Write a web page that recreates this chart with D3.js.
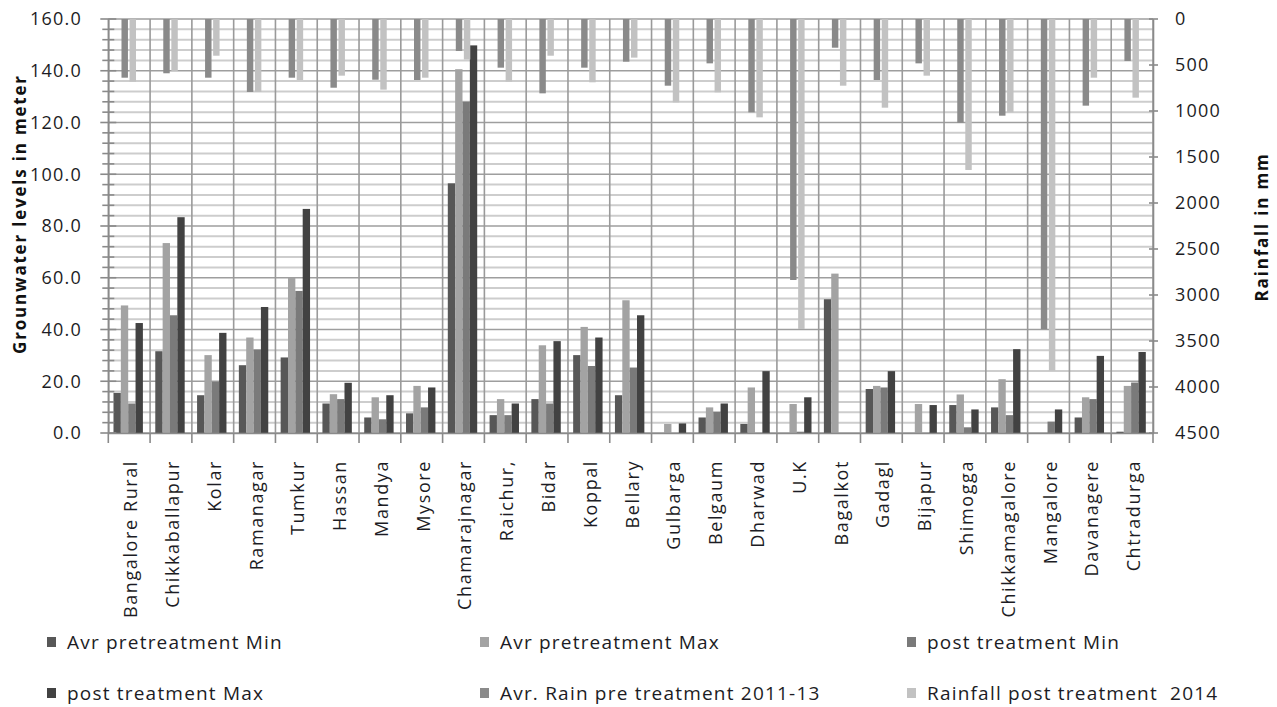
<!DOCTYPE html>
<html>
<head>
<meta charset="utf-8">
<script src="https://cdn.jsdelivr.net/npm/d3@7/dist/d3.min.js"></script>
<style>
  html, body { margin: 0; padding: 0; background: #fff; }
  svg { display: block; font-family: "Open Sans", "DejaVu Sans", sans-serif; }
</style>
</head>
<body>
<svg id="chart" width="1277" height="707"></svg>
<script>
// Districts along the x axis
const districts = ["Bangalore Rural", "Chikkaballapur", "Kolar", "Ramanagar", "Tumkur", "Hassan",
  "Mandya", "Mysore", "Chamarajnagar", "Raichur,", "Bidar", "Koppal", "Bellary", "Gulbarga",
  "Belgaum", "Dharwad", "U.K", "Bagalkot", "Gadagl", "Bijapur", "Shimogga", "Chikkamagalore",
  "Mangalore", "Davanagere", "Chtradurga"];

// Groundwater levels (m), left axis
const avrPreMin  = [15.5, 31.6, 14.6, 26.2, 29.2, 11.4, 6.0, 7.6, 96.5, 6.9, 13.1, 30.1, 14.6, 0, 6.0, 3.5, 0, 51.7, 17.0, 0, 10.8, 9.9, 0, 6.0, 0.5];
const avrPreMax  = [49.3, 73.4, 30.1, 36.9, 59.9, 15.0, 13.8, 18.2, 140.6, 13.1, 33.9, 41.0, 51.3, 3.5, 9.9, 17.6, 11.2, 61.6, 18.2, 11.2, 14.9, 20.8, 0, 13.8, 18.2];
const postMin    = [11.4, 45.5, 19.8, 32.3, 54.9, 13.1, 5.3, 9.9, 128.1, 6.9, 11.4, 25.9, 25.3, 0, 8.2, 0, 0.5, 0, 17.6, 0, 2.2, 6.9, 4.4, 13.1, 19.5];
const postMax    = [42.5, 83.4, 38.7, 48.7, 86.6, 19.4, 14.6, 17.6, 149.8, 11.4, 35.5, 36.9, 45.5, 3.7, 11.4, 23.9, 13.8, 0, 23.9, 10.8, 9.1, 32.4, 9.1, 29.8, 31.3];

// Rainfall (mm), right axis, drawn downward from the top
const rainPre    = [638, 590, 638, 793, 638, 747, 660, 663, 348, 529, 808, 529, 464, 725, 482, 1015, 2837, 312, 663, 482, 1127, 1051, 3370, 942, 457];
const rainPost   = [681, 565, 399, 793, 663, 616, 768, 638, 440, 681, 399, 688, 420, 906, 797, 1069, 3370, 725, 964, 616, 1641, 1015, 3823, 638, 855];

const leftTicks  = [0, 20, 40, 60, 80, 100, 120, 140, 160];
const rightTicks = [0, 500, 1000, 1500, 2000, 2500, 3000, 3500, 4000, 4500];

const gwSeries = [
  { name: "Avr pretreatment Min", values: avrPreMin, color: "#575757" },
  { name: "Avr pretreatment Max", values: avrPreMax, color: "#a3a3a3" },
  { name: "post treatment Min",   values: postMin,   color: "#7a7a7a" },
  { name: "post treatment Max",   values: postMax,   color: "#424242" }
];
const rainSeries = [
  { name: "Avr. Rain pre treatment 2011-13", values: rainPre,  color: "#8a8a8a" },
  { name: "Rainfall post treatment  2014",   values: rainPost, color: "#c2c2c2" }
];

const svg = d3.select("#chart");
const plot = { left: 108.3, right: 1153, top: 19, bottom: 433 };

const x = d3.scaleBand().domain(districts).range([plot.left, plot.right]).padding(0);
const yL = d3.scaleLinear().domain([0, 160]).range([plot.bottom, plot.top]);
const yR = d3.scaleLinear().domain([0, 4500]).range([plot.top, plot.bottom]);

const bw = x.bandwidth();
const gwWidth = 29.4;
const xGw = d3.scaleBand().domain(gwSeries.map(s => s.name))
  .range([(bw - gwWidth) / 2 - 1, (bw + gwWidth) / 2 - 1]);
const xRain = d3.scaleBand().domain(rainSeries.map(s => s.name))
  .range([bw / 2 - 7.7, bw / 2 + 6.8]).paddingInner(0.2);

// Horizontal gridlines: minor every 4 m, major every 20 m
const minorVals = d3.range(0, 161, 4).filter(v => v % 20 !== 0);
svg.append("g").selectAll("line").data(minorVals).join("line")
  .attr("x1", plot.left).attr("x2", plot.right)
  .attr("y1", d => yL(d)).attr("y2", d => yL(d))
  .attr("stroke", "#cdcdcd").attr("stroke-width", 2);
svg.append("g").selectAll("line").data(leftTicks).join("line")
  .attr("x1", plot.left).attr("x2", plot.right)
  .attr("y1", d => yL(d)).attr("y2", d => yL(d))
  .attr("stroke", "#9e9e9e").attr("stroke-width", 1.6);

// Vertical gridlines at category boundaries
const bounds = districts.map(d => x(d)).concat([plot.right]);
svg.append("g").selectAll("line").data(bounds).join("line")
  .attr("x1", d => d).attr("x2", d => d)
  .attr("y1", plot.top).attr("y2", plot.bottom)
  .attr("stroke", "#9a9a9a").attr("stroke-width", 1.6);

// Groundwater bars
gwSeries.forEach(s => {
  svg.append("g").selectAll("rect").data(s.values).join("rect")
    .attr("x", (v, i) => x(districts[i]) + xGw(s.name))
    .attr("width", xGw.bandwidth())
    .attr("y", v => yL(v))
    .attr("height", v => yL(0) - yL(v))
    .attr("fill", s.color);
});

// Rainfall bars hanging from the top
rainSeries.forEach(s => {
  svg.append("g").selectAll("rect").data(s.values).join("rect")
    .attr("x", (v, i) => x(districts[i]) + xRain(s.name))
    .attr("width", xRain.bandwidth())
    .attr("y", yR(0))
    .attr("height", v => yR(v) - yR(0))
    .attr("fill", s.color);
});

const textColor = "#1c1c24";

// Left axis
const leftAxis = svg.append("g").attr("transform", `translate(${plot.left},0)`)
  .call(d3.axisLeft(yL).tickValues(leftTicks).tickSize(0).tickFormat(""));
leftAxis.select(".domain").attr("stroke", "#8a8a8a").attr("stroke-width", 1.6);
svg.append("g").selectAll("line").data(d3.range(0, 161, 4)).join("line")
  .attr("x1", d => d % 20 === 0 ? plot.left - 8 : plot.left - 6)
  .attr("x2", d => d % 20 === 0 ? plot.left + 8 : plot.left + 6)
  .attr("y1", d => yL(d)).attr("y2", d => yL(d))
  .attr("stroke", "#8a8a8a").attr("stroke-width", 1.6);
svg.append("g").selectAll("text").data(leftTicks).join("text")
  .attr("x", 82).attr("y", d => yL(d)).attr("dy", "0.36em")
  .attr("text-anchor", "end").attr("font-size", 18).attr("letter-spacing", 1.2)
  .attr("fill", textColor)
  .text(d3.format(".1f"));

// Right axis
const rightAxis = svg.append("g").attr("transform", `translate(${plot.right},0)`)
  .call(d3.axisRight(yR).tickValues(rightTicks).tickSize(0).tickFormat(""));
rightAxis.select(".domain").attr("stroke", "#8a8a8a").attr("stroke-width", 1.6);
svg.append("g").selectAll("line").data(rightTicks).join("line")
  .attr("x1", plot.right - 4).attr("x2", plot.right + 5)
  .attr("y1", d => yR(d)).attr("y2", d => yR(d))
  .attr("stroke", "#8a8a8a").attr("stroke-width", 1.6);
svg.append("g").selectAll("text").data(rightTicks).join("text")
  .attr("x", 1175).attr("y", d => yR(d)).attr("dy", "0.36em")
  .attr("text-anchor", "start").attr("font-size", 18).attr("letter-spacing", 1.2)
  .attr("fill", textColor)
  .text(d => d);

// Bottom axis with boundary ticks
const bottomAxis = svg.append("g").attr("transform", `translate(0,${plot.bottom})`)
  .call(d3.axisBottom(x).tickSize(0).tickFormat(""));
bottomAxis.select(".domain").attr("stroke", "#8a8a8a").attr("stroke-width", 1.6);
svg.append("g").selectAll("line").data(bounds).join("line")
  .attr("x1", d => d).attr("x2", d => d)
  .attr("y1", plot.bottom).attr("y2", plot.bottom + 10)
  .attr("stroke", "#8a8a8a").attr("stroke-width", 1.6);

// Category labels, rotated
svg.append("g").selectAll("text").data(districts).join("text")
  .attr("transform", d => `translate(${x(d) + bw / 2 + 1.5},460) rotate(-90)`)
  .attr("dy", "0.36em")
  .attr("text-anchor", "end").attr("font-size", 18).attr("letter-spacing", 1.6)
  .attr("fill", textColor)
  .text(d => d);

// Axis titles
svg.append("text")
  .attr("transform", "translate(20,214) rotate(-90)")
  .attr("dy", "0.36em").attr("text-anchor", "middle")
  .attr("font-size", 17).attr("font-weight", "bold").attr("letter-spacing", 1.8)
  .attr("fill", "#111")
  .text("Grounwater levels in meter");
svg.append("text")
  .attr("transform", "translate(1262,227) rotate(-90)")
  .attr("dy", "0.36em").attr("text-anchor", "middle")
  .attr("font-size", 17).attr("font-weight", "bold").attr("letter-spacing", 1.8)
  .attr("fill", "#111")
  .text("Rainfall in mm");

// Legend
const legendItems = [
  gwSeries[0], gwSeries[1], gwSeries[2],
  gwSeries[3], rainSeries[0], rainSeries[1]
];
const legendCols = [47, 480, 907];
const legendRows = [642, 693];
const lg = svg.append("g").selectAll("g").data(legendItems).join("g")
  .attr("transform", (d, i) => `translate(${legendCols[i % 3]},${legendRows[Math.floor(i / 3)]})`);
lg.append("rect").attr("x", 0).attr("y", -5).attr("width", 9).attr("height", 10)
  .attr("fill", d => d.color);
lg.append("text").attr("x", 20).attr("y", 0).attr("dy", "0.36em")
  .attr("font-size", 19).attr("letter-spacing", 1.2).attr("fill", textColor)
  .attr("xml:space", "preserve")
  .text(d => d.name);
</script>
</body>
</html>
